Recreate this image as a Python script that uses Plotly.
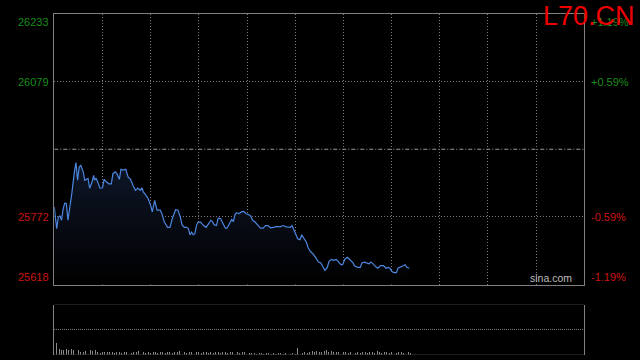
import plotly.graph_objects as go

W, H = 640, 360
title_text = "L70.CN"
watermark = "sina.com"
prev_close = 25925.5
session_minutes = 660
hour_marks = [60, 120, 180, 240, 300, 360, 420, 480, 540, 600]

price_ticks = [26233, 26079, 25772, 25618]
price_labels = ["26233", "26079", "25772", "25618"]
pct_labels = ["+1.19%", "+0.59%", "-0.59%", "-1.19%"]

minutes = [0, 3, 5, 7, 9, 11, 13, 15, 17, 20, 22, 25, 27, 29, 31, 33, 36, 38, 40, 42,
           44, 47, 49, 50, 52, 55, 57, 60, 62, 65, 68, 71, 73, 76, 78, 81, 83, 86, 89, 92,
           95, 98, 101, 104, 107, 109, 111, 114, 117, 120, 122, 125, 128, 132, 134, 137, 141, 144, 147, 151,
           154, 157, 159, 162, 165, 167, 169, 171, 173, 175, 177, 179, 182, 186, 189, 192, 195, 197, 199, 202,
           204, 207, 210, 213, 215, 218, 221, 223, 225, 227, 230, 233, 236, 239, 242, 244, 247, 250, 254, 257,
           260, 263, 266, 269, 273, 277, 281, 285, 289, 294, 296, 299, 301, 303, 306, 308, 311, 314, 316, 319,
           323, 326, 329, 332, 334, 337, 340, 342, 345, 348, 351, 354, 357, 359, 362, 365, 368, 372, 374, 378,
           381, 383, 386, 389, 392, 394, 397, 401, 403, 406, 410, 413, 416, 418, 420, 423, 426, 428, 431, 435,
           437, 439, 442]
prices = [25794, 25745, 25771, 25774, 25764, 25790, 25803, 25802, 25764, 25798, 25828, 25874, 25895, 25855, 25885, 25889, 25874, 25855, 25857, 25859,
          25837, 25851, 25866, 25855, 25860, 25847, 25837, 25838, 25857, 25851, 25847, 25847, 25870, 25874, 25870, 25857, 25880, 25878, 25880, 25862,
          25857, 25843, 25832, 25837, 25832, 25838, 25828, 25821, 25813, 25798, 25783, 25809, 25787, 25787, 25779, 25760, 25748, 25748, 25768, 25788,
          25787, 25771, 25754, 25748, 25748, 25745, 25731, 25737, 25731, 25733, 25752, 25760, 25760, 25752, 25748, 25756, 25764, 25761, 25754, 25752,
          25769, 25768, 25756, 25746, 25746, 25756, 25766, 25761, 25777, 25781, 25779, 25783, 25784, 25779, 25777, 25775, 25764, 25760, 25752, 25746,
          25746, 25752, 25752, 25747, 25748, 25750, 25749, 25752, 25749, 25748, 25752, 25737, 25731, 25722, 25720, 25731, 25723, 25714, 25702, 25693,
          25686, 25676, 25669, 25667, 25661, 25650, 25657, 25670, 25675, 25673, 25675, 25669, 25663, 25663, 25676, 25680, 25675, 25667, 25660, 25657,
          25657, 25667, 25669, 25667, 25665, 25669, 25665, 25657, 25655, 25661, 25661, 25655, 25657, 25655, 25648, 25645, 25645, 25655, 25657, 25661,
          25663, 25657, 25655]

volumes = [12, 6, 5, 5, 6, 5, 6, 5, 4, 5, 3, 3, 4, 4, 5, 4, 5, 3, 2, 3,
           3, 3, 3, 3, 2, 3, 3, 2, 3, 3, 3, 2, 3, 3, 4, 3, 3, 2, 3, 2,
           3, 3, 2, 3, 3, 2, 3, 3, 2, 3, 3, 4, 3, 3, 2, 3, 3, 2, 3, 3,
           2, 3, 3, 2, 3, 2, 3, 3, 2, 3, 3, 2, 3, 3, 2, 3, 2, 3, 3, 2,
           2, 2, 2, 1, 2, 2, 1, 2, 2, 1, 2, 1, 2, 2, 1, 2, 1, 1, 2, 1,
           7, 3, 2, 3, 2, 3, 4, 3, 4, 3, 3, 4, 5, 3, 4, 3, 3, 3, 2, 3,
           3, 2, 3, 3, 2, 3, 2, 3, 3, 2, 3, 3, 2, 4, 3, 2, 3, 3, 2, 3,
           3, 2, 3, 3, 2, 3, 3, 2]
vol_minutes = [3 + 3 * i for i in range(len(volumes))]
vol_max = 50

GREEN = "#1a8c1a"
RED = "#cc1414"
GRID = "#7a7a7a"
BORDER = "#808080"
FONT = "Liberation Sans, Arial, sans-serif"

x0, x1 = 54.3 / W, 584.3 / W
main_dom = [1 - 284.5 / H, 1 - 14 / H]
vol_dom = [1 - 354.5 / H, 1 - 304.5 / H]

fig = go.Figure()

fig.add_trace(go.Scatter(
    x=minutes, y=prices, mode="lines",
    line=dict(color="#4c86e0", width=1.2),
    fill="tozeroy",
    fillgradient=dict(type="vertical", start=price_ticks[-1], stop=max(prices),
                      colorscale=[[0, "#000000"], [1, "#0e1628"]]),
    xaxis="x", yaxis="y", hoverinfo="skip", showlegend=False,
))

fig.add_trace(go.Bar(
    x=vol_minutes, y=volumes, width=1.1,
    marker=dict(color="#8a8a8a", line=dict(width=0)),
    xaxis="x2", yaxis="y2", hoverinfo="skip", showlegend=False,
))

fig.update_layout(
    width=W, height=H, autosize=False,
    margin=dict(l=0, r=0, t=0, b=0),
    paper_bgcolor="#000000", plot_bgcolor="#000000",
    bargap=0,
    xaxis=dict(domain=[x0, x1], range=[0, session_minutes], tickvals=hour_marks,
               showticklabels=False, ticks="", showgrid=True, gridcolor=GRID,
               griddash="1px,2px", gridwidth=1, zeroline=False,
               showline=True, mirror=True, linecolor=BORDER, linewidth=1, anchor="y"),
    yaxis=dict(domain=main_dom, range=[price_ticks[-1], price_ticks[0]],
               tickvals=[price_ticks[1], price_ticks[2]], showticklabels=False, ticks="",
               showgrid=True, gridcolor=GRID, griddash="1px,2px", gridwidth=1,
               zeroline=False, showline=True, mirror=True, linecolor=BORDER, linewidth=1,
               anchor="x"),
    xaxis2=dict(domain=[x0, x1], range=[0, session_minutes], showticklabels=False,
                ticks="", showgrid=False, zeroline=False, showline=False, anchor="y2"),
    yaxis2=dict(domain=vol_dom, range=[0, vol_max], tickvals=[vol_max / 2],
                showticklabels=False, ticks="", showgrid=True, gridcolor=GRID,
                griddash="1px,1px", gridwidth=1, zeroline=False, showline=True,
                mirror=True, linecolor=BORDER, linewidth=1, anchor="x2"),
)

# previous close reference line
fig.add_shape(type="line", xref="x", yref="y", x0=0, x1=session_minutes,
              y0=prev_close, y1=prev_close,
              line=dict(color="#9a9a9a", width=1, dash="4px,2px,1px,2px"))

# volume panel top / bottom dotted borders
for v in (0, vol_max):
    fig.add_shape(type="line", xref="x2", yref="y2", x0=0, x1=session_minutes,
                  y0=v, y1=v, line=dict(color=GRID, width=1, dash="1px,1px"))

anchors = ["top", "middle", "middle", "bottom"]
for p, lab, pct, va in zip(price_ticks, price_labels, pct_labels, anchors):
    col = GREEN if p > prev_close else RED
    fig.add_annotation(x=51 / W, xref="paper", y=p, yref="y", text=lab,
                       showarrow=False, xanchor="right", yanchor=va,
                       font=dict(family=FONT, size=11, color=col))
    fig.add_annotation(x=589 / W, xref="paper", y=p, yref="y", text=pct,
                       showarrow=False, xanchor="left", yanchor=va,
                       font=dict(family=FONT, size=11, color=col))

fig.add_annotation(x=637 / W, xref="paper", y=1 - 16 / H, yref="paper", text=title_text,
                   showarrow=False, xanchor="right", yanchor="middle",
                   font=dict(family=FONT, size=27, color="#ee0000"))

fig.add_annotation(x=574 / W, xref="paper", y=1 - 278 / H, yref="paper", text=watermark,
                   showarrow=False, xanchor="right", yanchor="middle",
                   font=dict(family=FONT, size=10.5, color="#bdbdbd"))

fig.write_html(
    "out.html",
    config={"displayModeBar": False, "staticPlot": True},
    post_script="document.body.style.margin='0';document.body.style.padding='0';"
                "document.body.style.overflow='hidden';"
                "document.body.style.background='#000';",
)
